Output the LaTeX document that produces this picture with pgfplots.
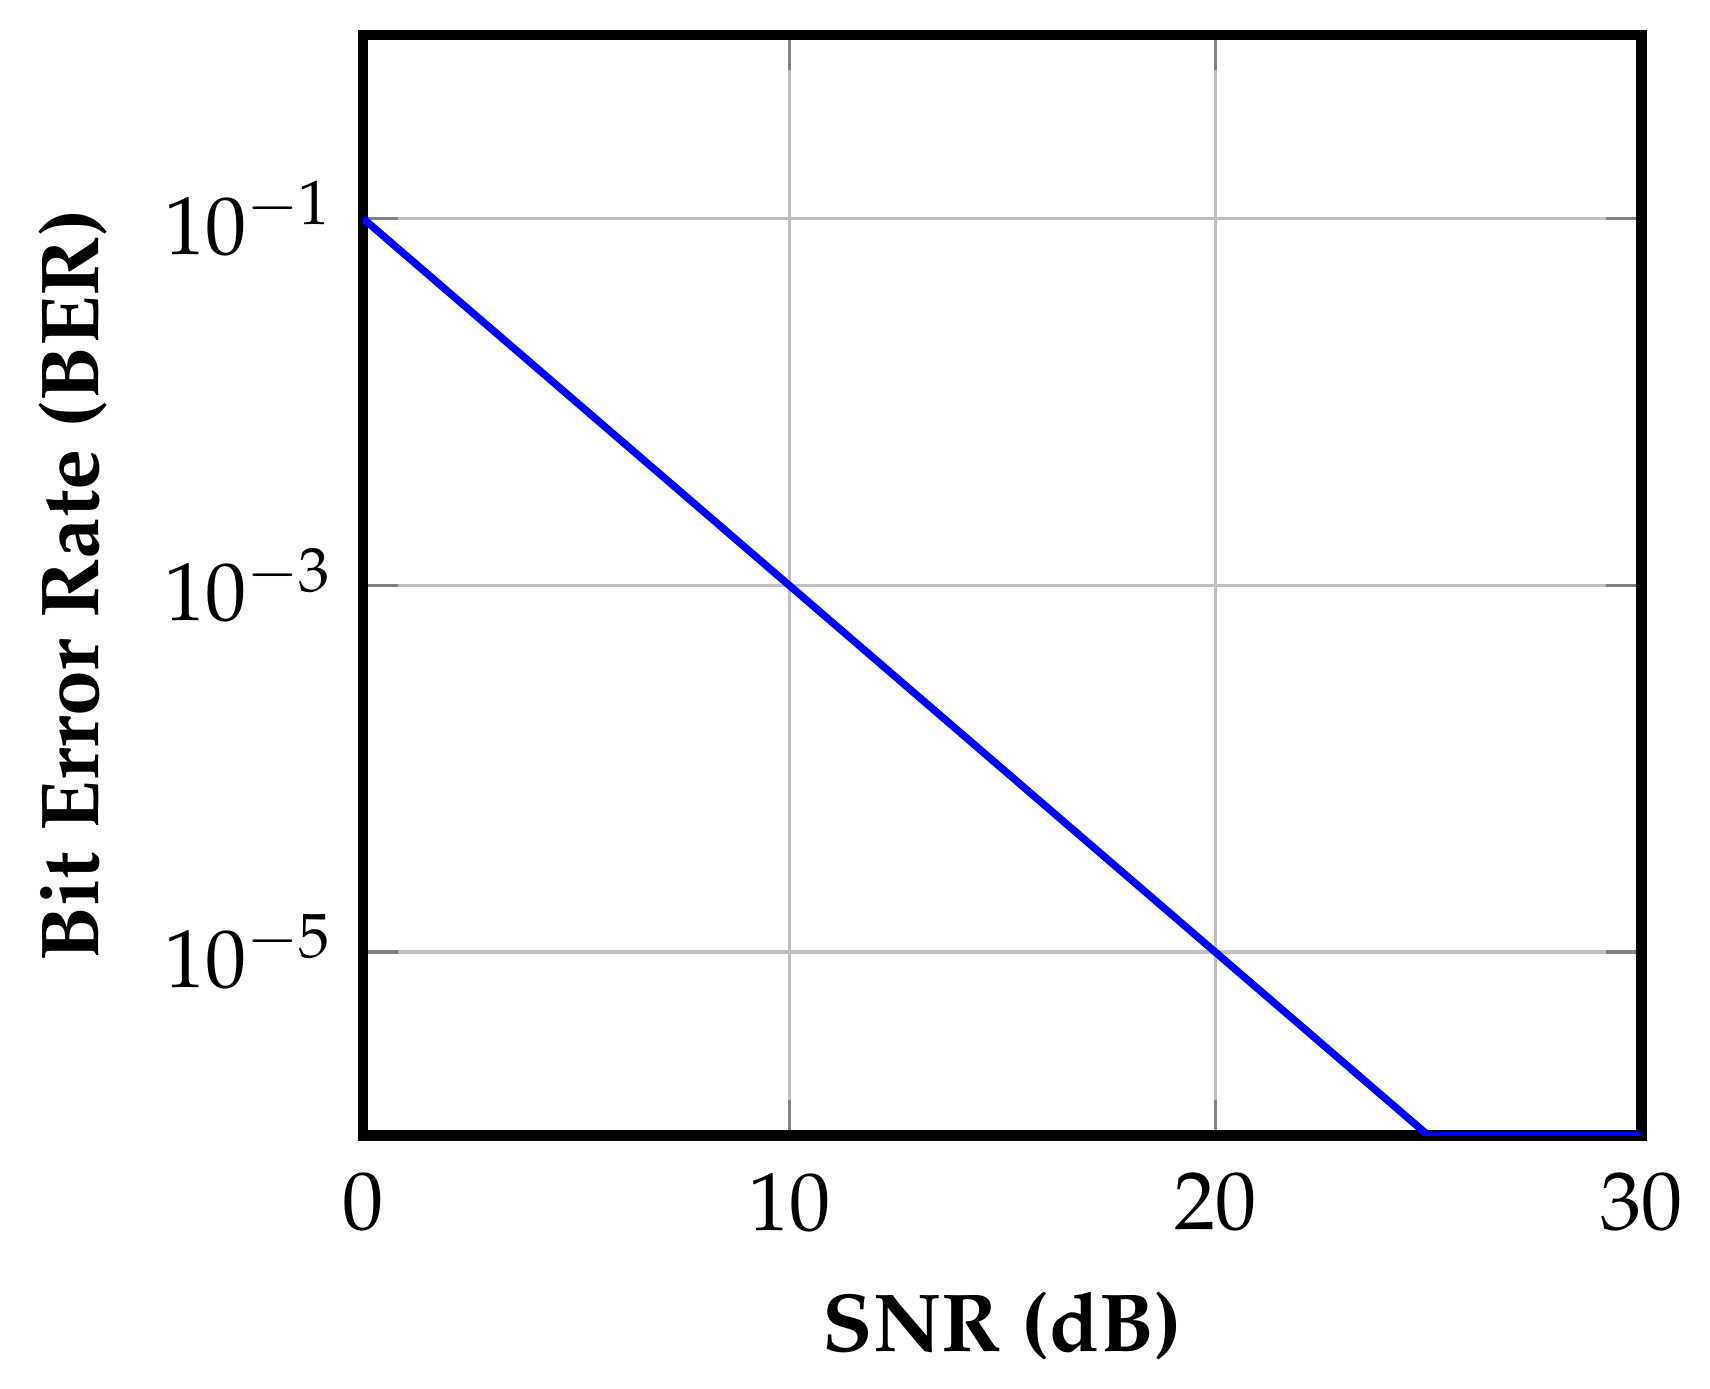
\documentclass[border=0pt]{standalone}
\usepackage[T1]{fontenc}
\usepackage{mathpazo}
\usepackage{pgfplots}
\pgfplotsset{compat=1.18}
\begin{document}
\begin{tikzpicture}
\begin{axis}[
  scale only axis,
  width=5.46cm, height=4.70cm,
  ymode=log,
  xmin=0, xmax=30, ymin=1e-6, ymax=1,
  xtick={0,10,20,30},
  ytick={1e-1,1e-3,1e-5},
  grid=major,
  major grid style={black!25, line width=0.4pt},
  tick style={black!50, line width=0.4pt},
  axis line style={black, line width=1.3pt},
  xticklabel style={yshift=-1pt},
  xlabel style={yshift=-0.5pt},
  xlabel={\bfseries SNR (dB)},
  ylabel={\bfseries Bit Error Rate (BER)},
]
\addplot[blue, line width=0.9pt] coordinates {(0,1e-1) (10,1e-3) (20,1e-5) (25,1e-6) (30,1e-6)};
\end{axis}
\path (current axis.north) ++(0,0.15cm);
\path (current bounding box.west) ++(-0.05cm,0);
\end{tikzpicture}
\end{document}
